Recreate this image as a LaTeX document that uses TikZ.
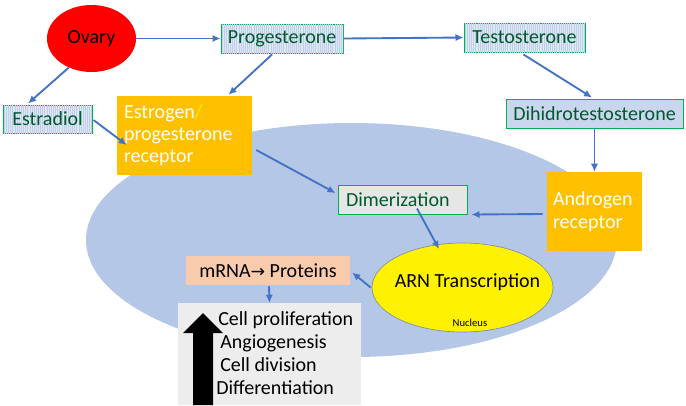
\documentclass[tikz,border=0pt]{standalone}
\usepackage{fontspec}
\setmainfont{Carlito}
\newfontfamily\arrowfont{DejaVu Sans}
\usetikzlibrary{patterns.meta,arrows.meta,calc,shapes.geometric}
\definecolor{bgblue}{HTML}{B4C7E7}
\definecolor{linkblue}{HTML}{4472C4}
\definecolor{boxgreen}{HTML}{00B050}
\definecolor{txtgreen}{HTML}{005A2C}
\definecolor{hatchbg}{HTML}{DEE7F4}
\definecolor{hatchline}{HTML}{BFCFE9}
\definecolor{dhtfill}{HTML}{C9D6EE}
\definecolor{recorange}{HTML}{FFC000}
\definecolor{dimgray}{HTML}{E7E6E6}
\definecolor{salmon}{HTML}{F8CBAD}
\definecolor{effgray}{HTML}{EDEDED}
\definecolor{arnborder}{HTML}{7F8FA6}
\begin{document}
\begin{tikzpicture}[x=0.75pt,y=-0.75pt,
  font=\fontsize{15}{16.5}\selectfont,
  sz/.style 2 args={minimum width=#1*0.75pt, minimum height=#2*0.75pt},
  hormone/.style={draw=boxgreen, line width=0.75pt, text=txtgreen, inner sep=0pt},
  hatched/.style={fill=hatchbg, postaction={pattern={Lines[angle=90,distance=1.6pt,line width=0.5pt]}, pattern color=hatchline}},
  receptor/.style={fill=recorange, text=white, align=left, inner xsep=4.5pt, inner ysep=0pt},
  link/.style={draw=linkblue, line width=1.4pt, -{Latex[length=6pt,width=5.5pt]}}
]
\useasboundingbox (0,0) rectangle (686,405);
% cell / nucleus background
\fill[bgblue] (351.5,240) ellipse [x radius=265.5, y radius=117];

% nodes
\node[ellipse, fill=red, sz={89}{67}, inner sep=0pt] (ovary) at (91.5,38.5) {Ovary};
\node[hormone, hatched, sz={122}{29}] (prog) at (282,38.5) {Progesterone};
\node[hormone, hatched, sz={121}{29}] (test) at (524.5,37.5) {Testosterone};
\node[hormone, fill=dhtfill, sz={177}{29}] (dht) at (594.5,113.5) {Dihidrotestosterone};
\node[hormone, hatched, sz={89}{28}] (estr) at (47.5,119) {Estradiol};
\node[receptor, sz={135}{79}, text width=121*0.75pt] (erec) at (184.5,135.5)
  {Estrogen\textcolor{yellow}{/}\\progesterone\\receptor};
\node[receptor, sz={95}{79}, text width=83*0.75pt] (drec) at (594.5,211.5)
  {Androgen\\[1pt]receptor};
\node[hormone, fill=dimgray, sz={129}{29}, text width=113*0.75pt, align=left, inner xsep=6pt] (dim) at (402.5,199.5) {Dimerization};
\node[ellipse, fill=yellow, draw=arnborder, line width=0.5pt, sz={181}{89}, inner sep=0pt] (arn) at (462.5,287.5) {};
\node (arntext) at ($(arn.center)+(5,-5.5)$) {ARN Transcription};
\node[font=\fontsize{8}{9}\selectfont] (nucleus) at ($(arn.center)+(7.5,35.5)$) {Nucleus};
\node[fill=salmon, sz={164}{29}, inner sep=0pt] (mrna) at (268,270.5) {mRNA{\arrowfont\fontsize{13}{14}\selectfont→} Proteins};
\node[fill=effgray, sz={183}{102}, inner sep=0pt] (eff) at (269.5,354) {};
\fill[black] (193,405) -- (193,333) -- (183,333) -- (203,313) -- (223,333) -- (213,333) -- (213,405) -- cycle;
\node[anchor=north west, align=left, inner sep=0pt, font=\fontsize{15}{17.25}\selectfont] (efftext) at (216,311.5)
  {\hspace*{1.5pt}Cell proliferation\\\hspace*{3pt}Angiogenesis\\\hspace*{3pt}Cell division\\Differentiation};

% connectors
\draw[link] (ovary.east) -- (prog.west);
\draw[link] (prog.east) -- (test.west);
\draw[link] (ovary.232) -- ($(estr.north)+(-19.5,-1)$);
\draw[link] ($(prog.south)+(-10,1)$) -- ($(erec.north)+(44,-1)$);
\draw[link] ($(estr.east)+(1,1)$) -- ($(erec.west)+(10,9.5)$);
\draw[link] ($(test.south)+(-1,2)$) -- ($(dht.north)+(-2.5,-1)$);
\draw[link] (dht.south) -- (drec.north);
\draw[link] ($(erec.east)+(4,14.5)$) -- ($(dim.west)+(-2,-6.5)$);
\draw[link] ($(drec.west)+(-4,2.5)$) -- ($(dim.south east)+(4,0)$);
\draw[link] ($(dim.south)+(14.5,-6)$) -- ($(arn.center)+(-23.5,-38.5)$);
\draw[link] ($(arn.west)+(-1,0)$) -- ($(mrna.east)+(2,2)$);
\draw[link] ($(mrna.south)+(1,1)$) -- (eff.north);
\end{tikzpicture}
\end{document}
